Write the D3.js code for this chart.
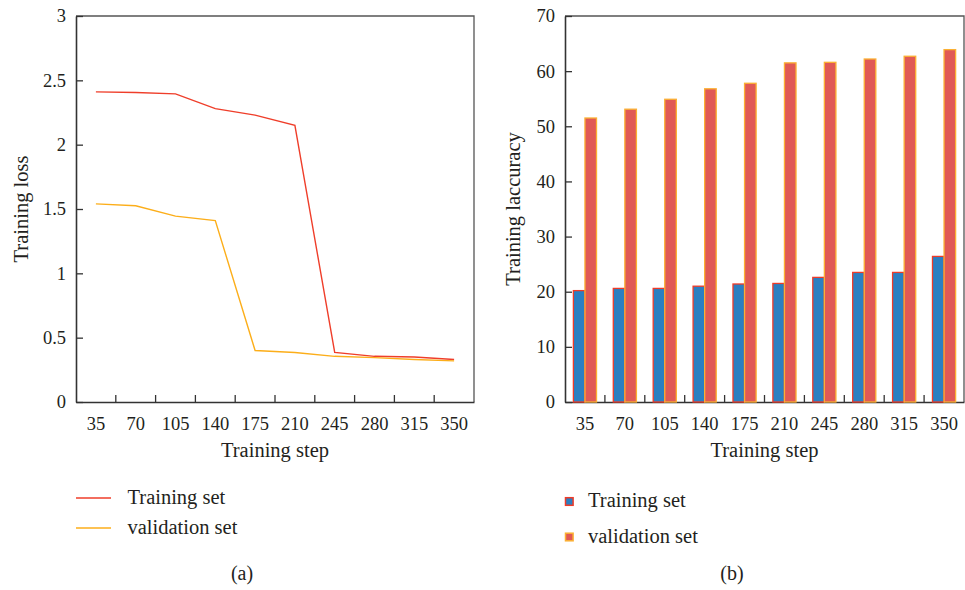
<!DOCTYPE html>
<html>
<head>
<meta charset="utf-8">
<script src="https://cdn.jsdelivr.net/npm/d3@7"></script>
<style>
  html, body { margin: 0; padding: 0; background: #fff; }
  svg { display: block; font-family: "Liberation Serif", "DejaVu Serif", serif; }
</style>
</head>
<body>
<svg id="fig" width="965" height="590"></svg>
<script>
// Training steps shared by both panels
const steps = [35, 70, 105, 140, 175, 210, 245, 280, 315, 350];

// Panel (a): loss curves
const trainLoss = [2.41, 2.405, 2.395, 2.28, 2.23, 2.15, 0.385, 0.355, 0.35, 0.33];
const valLoss   = [1.54, 1.525, 1.445, 1.41, 0.40, 0.385, 0.355, 0.345, 0.33, 0.32];
const lossTicks = [0, 0.5, 1, 1.5, 2, 2.5, 3];

// Panel (b): accuracy bars
const trainAcc = [20.2, 20.6, 20.6, 21.0, 21.4, 21.5, 22.6, 23.5, 23.5, 26.4];
const valAcc   = [51.5, 53.1, 54.9, 56.8, 57.8, 61.5, 61.6, 62.2, 62.7, 63.9];
const accTicks = [0, 10, 20, 30, 40, 50, 60, 70];

const seriesNames = ["Training set", "validation set"];

const textColor = "#231f20";
const axisColor = "#333";
const frameColor = "#555";
const lineColors = ["#ef3e2a", "#fcae1a"];
const barFill = ["#2b7fc1", "#e05955"];
const barStroke = ["#ee3b28", "#fbb033"];

const svg = d3.select("#fig");

function panel(opts) {
  const { left, right, top, bottom, yMax, yTicks, yTitle } = opts;
  const g = svg.append("g");
  const x = d3.scaleBand().domain(steps).range([left, right]).padding(0);
  const y = d3.scaleLinear().domain([0, yMax]).range([bottom, top]);

  // frame top and right
  g.append("path")
    .attr("d", `M${left},${top}H${right}V${bottom}`)
    .attr("fill", "none").attr("stroke", frameColor).attr("stroke-width", 1.3);

  // y axis, ticks pointing inward
  const ya = g.append("g").attr("transform", `translate(${left},0)`)
    .call(d3.axisLeft(y).tickValues(yTicks).tickSizeInner(-7).tickSizeOuter(0)
      .tickPadding(10).tickFormat(d => String(d)));
  ya.select(".domain").attr("stroke", axisColor).attr("stroke-width", 1.6);
  ya.selectAll(".tick line").attr("stroke", axisColor).attr("stroke-width", 1.3);
  ya.selectAll(".tick text").attr("fill", textColor)
    .style("font-size", "18.5px").style("font-family", "Liberation Serif");

  // x axis: labels at band centres, ticks between bands pointing up
  const xa = g.append("g").attr("transform", `translate(0,${bottom})`)
    .call(d3.axisBottom(x).tickSize(0).tickSizeOuter(0).tickPadding(15));
  xa.select(".domain").attr("stroke", axisColor).attr("stroke-width", 1.6);
  xa.selectAll(".tick text").attr("fill", textColor)
    .style("font-size", "18.5px").style("font-family", "Liberation Serif");
  g.append("g").selectAll("line")
    .data(steps.slice(1))
    .join("line")
    .attr("x1", d => x(d)).attr("x2", d => x(d))
    .attr("y1", bottom).attr("y2", bottom - 7)
    .attr("stroke", axisColor).attr("stroke-width", 1.3);

  // axis titles
  g.append("text")
    .attr("x", (left + right) / 2).attr("y", 457)
    .attr("text-anchor", "middle").attr("fill", textColor)
    .style("font-size", "20.5px").text("Training step");
  g.append("text")
    .attr("transform", `translate(${opts.yTitleX},${(top + bottom) / 2}) rotate(-90)`)
    .attr("text-anchor", "middle").attr("fill", textColor)
    .style("font-size", "20.5px").text(yTitle);

  return { g, x, y };
}

// ---------- Panel (a) ----------
const A = panel({ left: 76, right: 474, top: 16, bottom: 402, yMax: 3,
  yTicks: lossTicks, yTitle: "Training loss", yTitleX: 28 });

const line = d3.line()
  .x((d, i) => A.x(steps[i]) + A.x.bandwidth() / 2)
  .y(d => A.y(d));

[trainLoss, valLoss].forEach((vals, k) => {
  A.g.append("path").datum(vals)
    .attr("d", line).attr("fill", "none")
    .attr("stroke", lineColors[k]).attr("stroke-width", 1.4);
});

// legend (a)
const legA = svg.append("g");
seriesNames.forEach((name, k) => {
  const yy = 498 + k * 30;
  legA.append("line").attr("x1", 76).attr("x2", 111).attr("y1", yy).attr("y2", yy)
    .attr("stroke", lineColors[k]).attr("stroke-width", 1.4);
  legA.append("text").attr("x", 127.5).attr("y", yy + 5.5).attr("fill", textColor)
    .style("font-size", "20.5px").text(name);
});
svg.append("text").attr("x", 242).attr("y", 580).attr("text-anchor", "middle")
  .attr("fill", textColor).style("font-size", "20px").text("(a)");

// ---------- Panel (b) ----------
const B = panel({ left: 565, right: 964, top: 16, bottom: 402, yMax: 70,
  yTicks: accTicks, yTitle: "Training laccuracy", yTitleX: 520 });

const bw = B.x.bandwidth() * 0.29;
[trainAcc, valAcc].forEach((vals, k) => {
  B.g.append("g").selectAll("rect")
    .data(vals)
    .join("rect")
    .attr("x", (d, i) => B.x(steps[i]) + B.x.bandwidth() / 2 - bw + k * bw)
    .attr("width", bw)
    .attr("y", d => B.y(d))
    .attr("height", d => B.y(0) - B.y(d))
    .attr("fill", barFill[k])
    .attr("stroke", barStroke[k]).attr("stroke-width", 1.3);
});

// legend (b)
const legB = svg.append("g");
seriesNames.forEach((name, k) => {
  const yy = 501.5 + k * 35.5;
  legB.append("rect").attr("x", 565.5).attr("y", yy - 3.8).attr("width", 7.6).attr("height", 7.6)
    .attr("fill", barFill[k]).attr("stroke", barStroke[k]).attr("stroke-width", 1.5);
  legB.append("text").attr("x", 588).attr("y", yy + 5.5).attr("fill", textColor)
    .style("font-size", "20.5px").text(name);
});
svg.append("text").attr("x", 732).attr("y", 580).attr("text-anchor", "middle")
  .attr("fill", textColor).style("font-size", "20px").text("(b)");
</script>
</body>
</html>
